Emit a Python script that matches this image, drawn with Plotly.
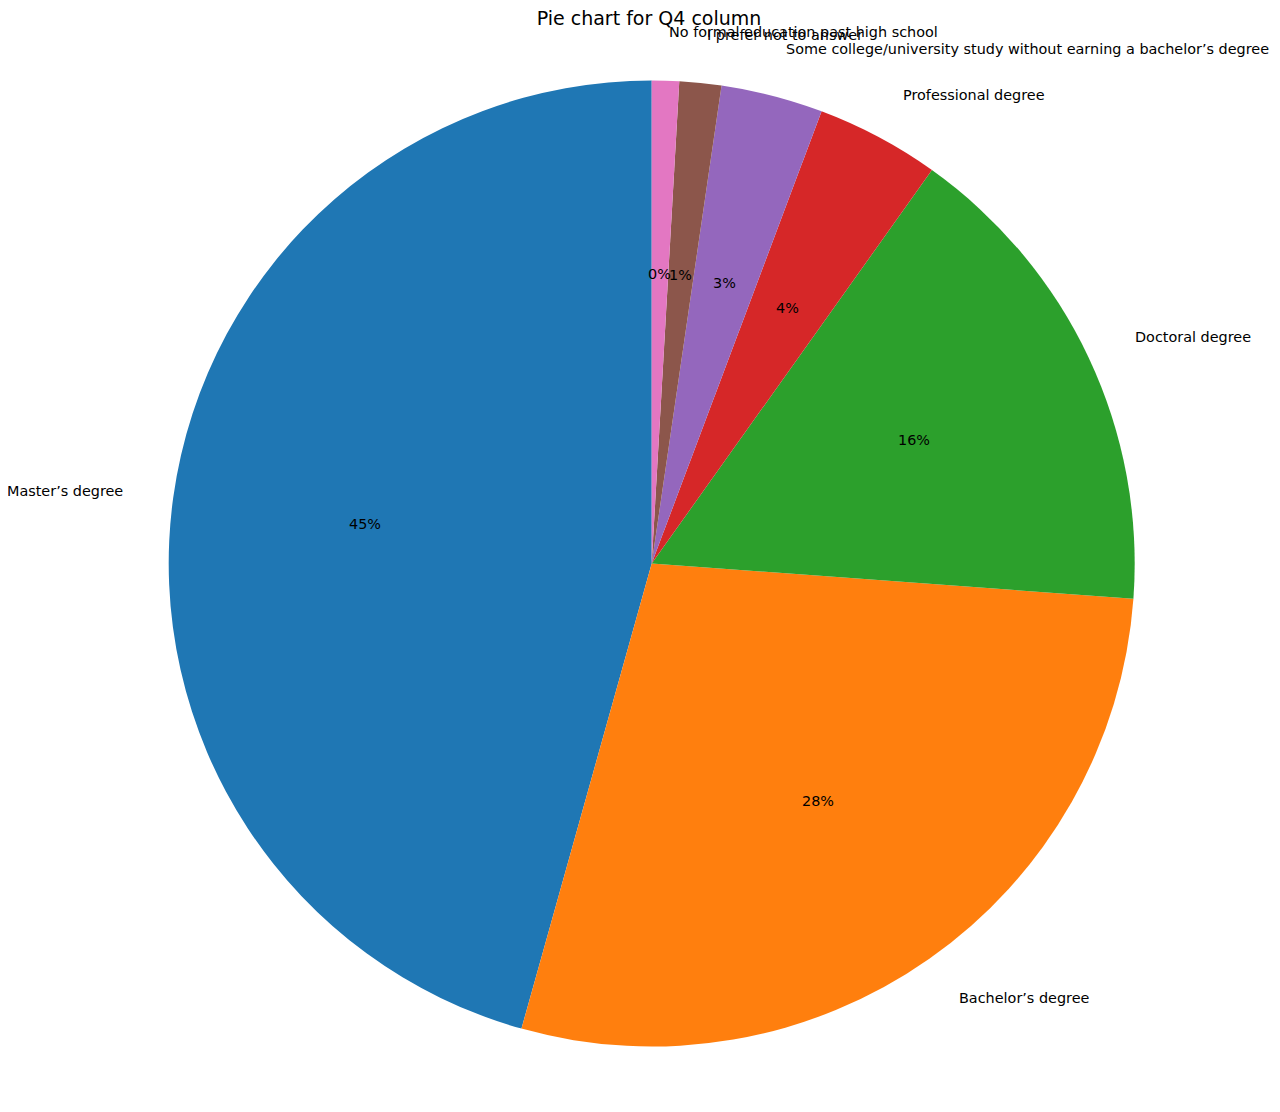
import math
import plotly.graph_objects as go

# answers to Q4 (share of respondents, %)
categories = [
    "Master’s degree",
    "Bachelor’s degree",
    "Doctoral degree",
    "Professional degree",
    "Some college/university study without earning a bachelor’s degree",
    "I prefer not to answer",
    "No formal education past high school",
]
shares = [45.65, 28.18, 16.31, 4.13, 3.41, 1.40, 0.91]
colors = ["#1f77b4", "#ff7f0e", "#2ca02c", "#d62728", "#9467bd", "#8c564b", "#e377c2"]

W, H = 1280, 1112
PAGE_OFF = 8                       # page body margin shifts the plot div
cx, cy, r = 651.7, 563.5, 483.0   # pie centre / radius in screen px
FONT = "DejaVu Sans"


def px_to_paper(x, y):
    return (x - PAGE_OFF) / W, 1 - (y - PAGE_OFF) / H


total = sum(shares)
x0, y1 = px_to_paper(cx - r, cy - r)
x1, y0 = px_to_paper(cx + r, cy + r)

fig = go.Figure()
fig.add_trace(go.Pie(
    labels=categories, values=shares, sort=False, direction="counterclockwise",
    # plotly puts the first ccw slice right of 12 o'clock; turn it so it starts at 12 like matplotlib
    rotation=-360 * shares[0] / total,
    marker=dict(colors=colors, line=dict(width=0)), textinfo="none", showlegend=False,
    domain=dict(x=[x0, x1], y=[y0, y1]),
))

# matplotlib-style labels: names at 1.1r, percentages at 0.6r
annotations = []
cum = 0.0
for name, v in zip(categories, shares):
    theta = math.radians(90 + 360 * (cum + v / 2) / total)
    cum += v
    c, s = math.cos(theta), math.sin(theta)
    lx, ly = px_to_paper(cx + 1.1 * r * c, cy - 1.1 * r * s)
    annotations.append(dict(x=lx, y=ly, xref="paper", yref="paper", text=name, showarrow=False,
                            xanchor="left" if c > 0 else "right", yanchor="middle",
                            font=dict(family=FONT, size=14.4, color="black")))
    pct = 100 * v / total
    tx, ty = px_to_paper(cx + 0.6 * r * c, cy - 0.6 * r * s)
    annotations.append(dict(x=tx, y=ty, xref="paper", yref="paper", text=f"{int(pct)}%", showarrow=False,
                            xanchor="center", yanchor="middle",
                            font=dict(family=FONT, size=14.4, color="black")))

tx, ty = px_to_paper(649, 18)
fig.update_layout(
    width=W, height=H, margin=dict(l=0, r=0, t=0, b=0),
    paper_bgcolor="white", plot_bgcolor="white",
    title=dict(text="Pie chart for Q4 column", x=tx, xanchor="center", y=ty, yanchor="middle",
               xref="paper", yref="container", font=dict(family=FONT, size=19, color="black")),
    annotations=annotations,
)
fig.write_html("out.html")
